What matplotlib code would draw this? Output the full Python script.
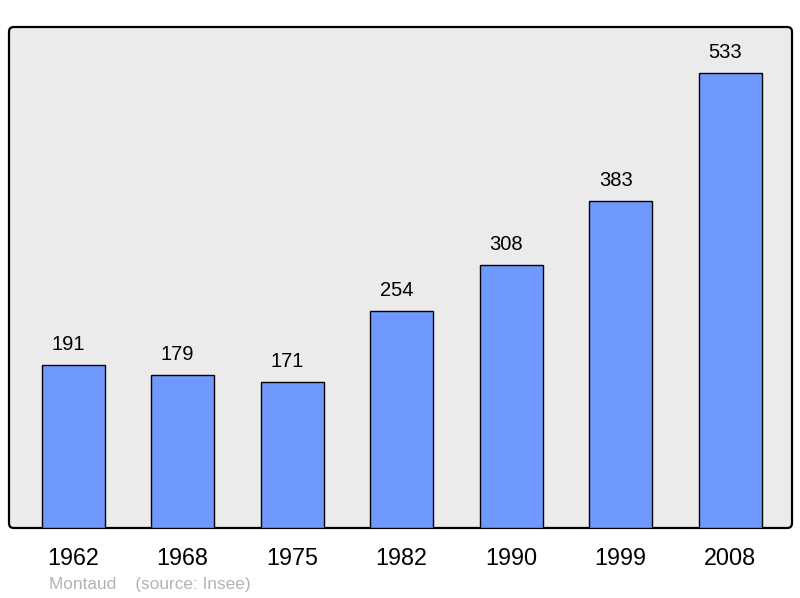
import matplotlib
matplotlib.use("Agg")
import matplotlib.pyplot as plt
from matplotlib.patches import FancyBboxPatch

plt.rcParams['font.family'] = ['Liberation Sans', 'DejaVu Sans']

years = ["1962", "1968", "1975", "1982", "1990", "1999", "2008"]
population = [191, 179, 171, 254, 308, 383, 533]

fig = plt.figure(figsize=(8, 5.98), dpi=100)
ax = fig.add_axes([9/800, 70/598, 783/800, 501/598])
ax.patch.set_visible(False)

x = list(range(len(years)))
bars = ax.bar(x, population, width=0.575, color='#7099ff', edgecolor='black',
              linewidth=1.0, zorder=3)
for xi, v in zip(x, population):
    ax.annotate(str(v), (xi, v), xytext=(-3.6, 8.2), textcoords='offset points',
                ha='center', va='bottom', fontsize=14.5, color='black')

ax.set_xlim(-0.585, 6.565)
ax.set_ylim(0, 587)
ax.set_xticks(x)
ax.set_xticklabels(years, fontsize=16.8)
ax.tick_params(axis='x', length=0, pad=13.5)
ax.set_yticks([])
for s in ax.spines.values():
    s.set_visible(False)

frame = FancyBboxPatch((9/800, 70/598), 783/800, 501/598,
                       boxstyle="round,pad=0,rounding_size=0.006",
                       mutation_aspect=800/598,
                       transform=fig.transFigure, facecolor='#ebebeb',
                       edgecolor='black', linewidth=1.6, zorder=-1)
fig.patches.append(frame)

fig.text(49/800, 1 - 584/598, "Montaud    (source: Insee)", fontsize=12.4,
         color='#b3b3b3', ha='left', va='center')

fig.savefig("out.png", dpi=100)
